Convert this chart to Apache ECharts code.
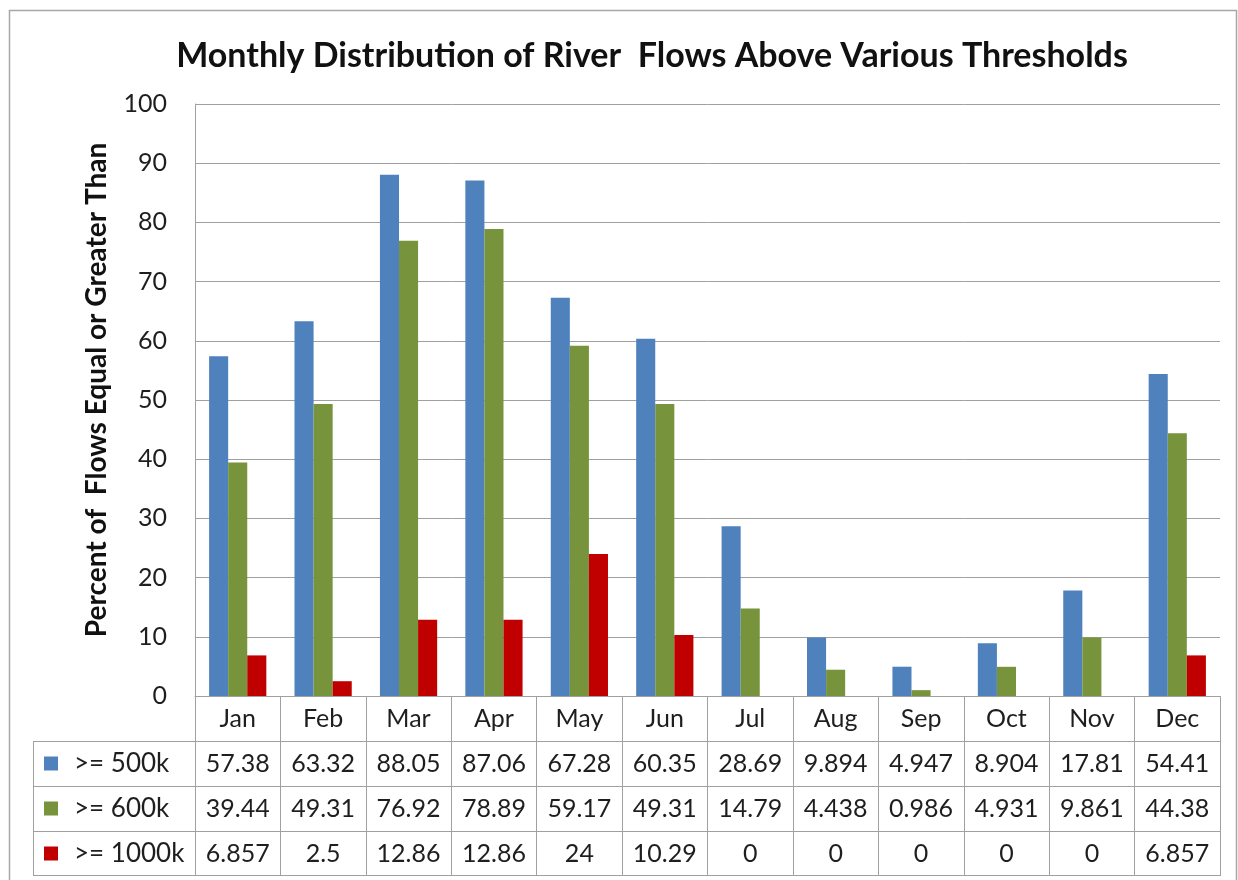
<!DOCTYPE html>
<html>
<head>
<meta charset="utf-8">
<script src="https://cdn.jsdelivr.net/npm/echarts@6/dist/echarts.min.js"></script>
<style>
  html, body { margin: 0; padding: 0; background: #fff; }
  #chart { width: 1238px; height: 880px; }
</style>
</head>
<body>
<div id="chart"></div>
<script>
// Month categories and the share of flows at or above each threshold
const months = ['Jan', 'Feb', 'Mar', 'Apr', 'May', 'Jun', 'Jul', 'Aug', 'Sep', 'Oct', 'Nov', 'Dec'];
const seriesNames = ['>= 500k', '>= 600k', '>= 1000k'];
const flows500k = [57.38, 63.32, 88.05, 87.06, 67.28, 60.35, 28.69, 9.894, 4.947, 8.904, 17.81, 54.41];
const flows600k = [39.44, 49.31, 76.92, 78.89, 59.17, 49.31, 14.79, 4.438, 0.986, 4.931, 9.861, 44.38];
const flows1000k = [6.857, 2.5, 12.86, 12.86, 24, 10.29, 0, 0, 0, 0, 0, 6.857];
const yTicks = [0, 10, 20, 30, 40, 50, 60, 70, 80, 90, 100];

const colors = ['#4F81BD', '#77933C', '#C00000'];
const rows = [flows500k, flows600k, flows1000k];

const FONT = 'Lato, "Noto Sans", sans-serif';
const TEXT = '#1e1e1e';
const LINE = '#a0a0a0';
const ROW_H = 45;
const TABLE_FS = 25;

// Layout of the plot and the data table beneath it
const grid = { left: 195, right: 18, top: 104, bottom: 184 };
const plotBottom = 880 - grid.bottom;

const tableAxisBase = {
  type: 'category',
  data: months,
  position: 'bottom',
  gridIndex: 0,
  axisLine: { show: true, lineStyle: { color: LINE, width: 1 } },
  axisTick: { show: true, length: ROW_H, inside: false, lineStyle: { color: LINE, width: 1 } },
  splitLine: { show: false }
};

const xAxes = [
  Object.assign({}, tableAxisBase, {
    offset: 0,
    axisLabel: { show: true, fontFamily: FONT, fontSize: TABLE_FS, color: TEXT, margin: 23, verticalAlign: 'middle' }
  })
];
rows.forEach((row, r) => {
  xAxes.push(Object.assign({}, tableAxisBase, {
    offset: ROW_H * (r + 1),
    axisLabel: {
      show: true, fontFamily: FONT, fontSize: TABLE_FS, color: TEXT, margin: 23, verticalAlign: 'middle',
      formatter: (v, i) => String(row[i])
    }
  }));
});
// closing line at the bottom of the table
xAxes.push(Object.assign({}, tableAxisBase, {
  offset: ROW_H * 4 - 1,
  axisTick: { show: false },
  axisLabel: { show: false }
}));

// Legend column of the data table (left of the month columns)
const legendLeft = 33;
const tableTop = plotBottom + ROW_H;
const graphics = [
  {
    type: 'rect',
    shape: { x: 9.5, y: 10.5, width: 1227, height: 890 },
    style: { fill: 'none', stroke: '#a6a6a6', lineWidth: 1.5 },
    silent: true
  },
  {
    type: 'line',
    shape: { x1: legendLeft + 0.5, y1: tableTop, x2: legendLeft + 0.5, y2: plotBottom + ROW_H * 4 - 1 },
    style: { stroke: LINE, lineWidth: 1 }
  }
];
for (let k = 0; k < 4; k++) {
  const y = plotBottom + ROW_H * (k + 1) - (k === 3 ? 1 : 0) + 0.5;
  graphics.push({
    type: 'line',
    shape: { x1: legendLeft, y1: y, x2: grid.left, y2: y },
    style: { stroke: LINE, lineWidth: 1 }
  });
}
seriesNames.forEach((name, r) => {
  const cy = tableTop + ROW_H * r + ROW_H / 2;
  graphics.push({
    type: 'rect',
    shape: { x: 44, y: cy - 7, width: 14, height: 14 },
    style: { fill: colors[r] }
  });
  graphics.push({
    type: 'text',
    x: 74, y: cy,
    style: { text: name, font: '26px ' + FONT, fill: TEXT, textVerticalAlign: 'middle', textAlign: 'left' }
  });
});

const chart = echarts.init(document.getElementById('chart'), null, { renderer: 'canvas' });
chart.setOption({
  animation: false,
  backgroundColor: '#ffffff',
  color: colors,
  title: {
    text: 'Monthly Distribution of River  Flows Above Various Thresholds',
    left: 647,
    textAlign: 'center',
    top: 34,
    textStyle: { fontFamily: FONT, fontWeight: 'bold', fontSize: 34, color: '#111' }
  },
  grid: grid,
  xAxis: xAxes,
  yAxis: {
    type: 'value',
    min: yTicks[0],
    max: yTicks[yTicks.length - 1],
    interval: yTicks[1] - yTicks[0],
    name: 'Percent of  Flows Equal or Greater Than',
    nameLocation: 'middle',
    nameRotate: 90,
    nameGap: 84,
    nameTextStyle: { fontFamily: FONT, fontWeight: 'bold', fontSize: 28, color: '#111', padding: [0, 0, 0, 20] },
    axisLine: { show: true, lineStyle: { color: LINE, width: 1 } },
    axisTick: { show: false },
    axisLabel: { fontFamily: FONT, fontSize: TABLE_FS, color: TEXT, margin: 28 },
    splitLine: { show: true, lineStyle: { color: LINE, width: 1 } }
  },
  series: rows.map((row, r) => ({
    name: seriesNames[r],
    type: 'bar',
    xAxisIndex: 0,
    data: row,
    barGap: '0%',
    barCategoryGap: '33%',
    itemStyle: { color: colors[r] }
  })),
  graphic: graphics
});
</script>
</body>
</html>
